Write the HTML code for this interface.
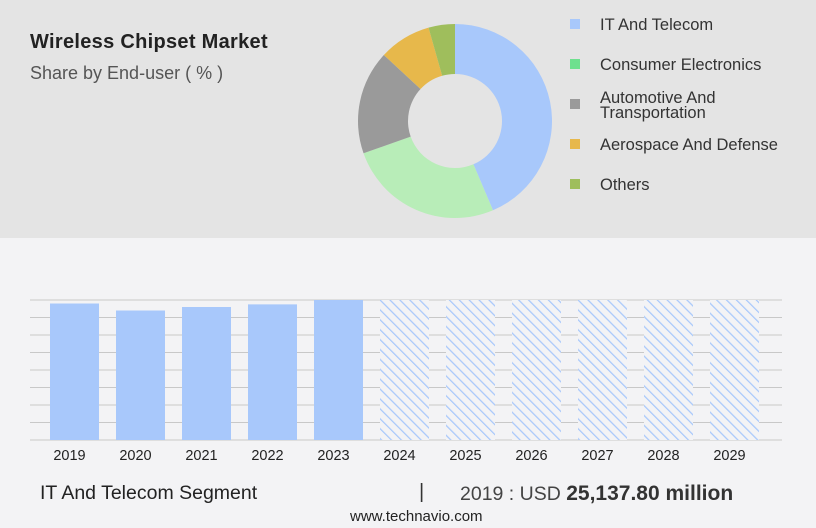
<!DOCTYPE html>
<html><head><meta charset="utf-8"><style>
body{margin:0;width:816px;height:528px;overflow:hidden;background:#f3f3f5;font-family:"Liberation Sans",sans-serif;}
#top-panel{position:absolute;left:0;top:0;width:816px;height:238px;background:#e4e4e4;}
.t{position:absolute;white-space:nowrap;}
</style></head><body>
<div id="top-panel"></div>
<div class="t" style="left:30px;top:31px;font-size:20px;font-weight:bold;color:#222;letter-spacing:0.3px;">Wireless Chipset Market</div>
<div class="t" style="left:30px;top:63px;font-size:18px;color:#555;">Share by End-user ( % )</div>
<svg id="donut" width="816" height="528" style="position:absolute;left:0;top:0"></svg>
<svg id="bars" width="816" height="528" style="position:absolute;left:0;top:0">
<defs><pattern id="hatch" patternUnits="userSpaceOnUse" width="7" height="7" patternTransform="rotate(-45)"><rect width="7" height="7" fill="#f3f3f5"/><line x1="0" y1="0" x2="0" y2="7" stroke="#a8c8fb" stroke-width="2.5"/></pattern></defs>
</svg>
<div class="t" style="left:40px;top:482px;font-size:19.5px;color:#222;">IT And Telecom Segment</div>
<div class="t" style="left:419px;top:481px;font-size:20px;color:#333;">|</div>
<div class="t" style="left:460px;top:482px;font-size:19.5px;color:#444;">2019 : USD <b style="color:#333;font-size:21px">25,137.80 million</b></div>
<div class="t" style="left:350px;top:508px;font-size:15px;color:#222;">www.technavio.com</div>
<script>
const segments=["IT And Telecom","Consumer Electronics","Automotive And Transportation","Aerospace And Defense","Others"];
const shares=[43.6,26.0,17.3,8.7,4.4];
const segColors=["#a8c8fb","#b8edb8","#9a9a9a","#e7b84b","#9fbe5c"];
const legendColors=["#a8c8fb","#6ee08e","#9a9a9a","#e7b84b","#9fbe5c"];
const years=["2019","2020","2021","2022","2023","2024","2025","2026","2027","2028","2029"];
const values=[7.8,7.4,7.6,7.75,8.0,8,8,8,8,8,8];
const forecast=[false,false,false,false,false,true,true,true,true,true,true];
const NS="http://www.w3.org/2000/svg";
function mk(p,tag,attrs){const e=document.createElementNS(NS,tag);for(const k in attrs)e.setAttribute(k,attrs[k]);p.appendChild(e);return e;}
const dsvg=document.getElementById('donut');
const dcx=455,dcy=121,dR=97,dr=47;
const shareTotal=shares.reduce((a,c)=>a+c,0);
let ang0=0;
shares.forEach((s,i)=>{
 const ang1=ang0+s/shareTotal*2*Math.PI;
 const P=(rad,a)=>[dcx+rad*Math.sin(a),dcy-rad*Math.cos(a)];
 const [x1,y1]=P(dR,ang0),[x2,y2]=P(dR,ang1),[x3,y3]=P(dr,ang1),[x4,y4]=P(dr,ang0);
 const lg=(ang1-ang0)>Math.PI?1:0;
 const p=mk(dsvg,'path',{d:`M${x1},${y1}A${dR},${dR} 0 ${lg} 1 ${x2},${y2}L${x3},${y3}A${dr},${dr} 0 ${lg} 0 ${x4},${y4}Z`,fill:segColors[i]});
 
 
 ang0=ang1;
});
const legY=[24,64,104,144,184];
segments.forEach((s,i)=>{
 const y=legY[i];
 const sq=mk(dsvg,'rect',{x:570,y:y-5,width:10,height:10,fill:legendColors[i]});
 
 
 const parts=s==="Automotive And Transportation"?["Automotive And","Transportation"]:[s];
 parts.forEach((t,j)=>{
  const tx=mk(dsvg,'text',{x:600,y:(parts.length>1?y-1+j*15:y+6),'font-size':16.5,fill:'#333','font-family':'Liberation Sans, sans-serif'});
  tx.textContent=t;
  
  
 });
});
const bsvg=document.getElementById('bars');
const barX0=50,barStep=66,barW=49,yBase=440,yTop=300,vMax=8;
const yScale=v=>yBase-(v/vMax)*(yBase-yTop);
for(let g=0;g<=8;g++){
 const gl=mk(bsvg,'line',{x1:30,x2:782,y1:yScale(g),y2:yScale(g),stroke:'#c8c8c8','stroke-width':1});
 
 
}
years.forEach((yr,i)=>{
 const x=barX0+i*barStep;
 const rc=mk(bsvg,'rect',{x:x,y:yScale(values[i]),width:barW,height:yBase-yScale(values[i]),fill:forecast[i]?'url(#hatch)':'#a8c8fb'});
 
 
 const t=mk(bsvg,'text',{x:x+barW/2-5,y:460,'text-anchor':'middle','font-size':14.5,fill:'#222','font-family':'Liberation Sans, sans-serif'});
 t.textContent=yr;
 
 
});
</script>
</body></html>
